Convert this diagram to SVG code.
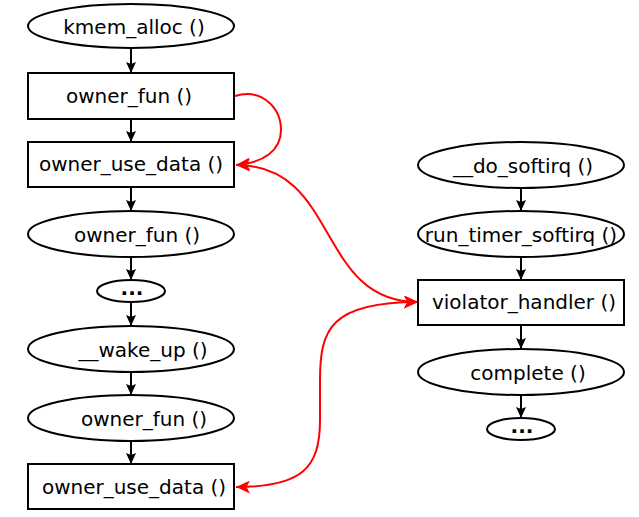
<svg xmlns="http://www.w3.org/2000/svg" width="639" height="517" viewBox="0 0 639 517">
<style>
  .shape { fill: #fff; stroke: #000; stroke-width: 2; }
  .lbl { font-family: "DejaVu Sans", sans-serif; font-size: 20px; fill: #000; text-anchor: middle; }
  .dots { font-weight: bold; }
  .edge { fill: none; stroke: #000; stroke-width: 2; }
  .red { fill: none; stroke: #ff0000; stroke-width: 2; }
</style>
<defs>
  <marker id="ab" markerUnits="userSpaceOnUse" markerWidth="12" markerHeight="11" refX="11" refY="5.5" orient="auto">
    <path d="M0,0.5 L11,5.5 L0,10.5 L2,5.5 z" fill="#000"/>
  </marker>
  <marker id="ar" markerUnits="userSpaceOnUse" markerWidth="15" markerHeight="13" refX="14" refY="6.5" orient="auto-start-reverse">
    <path d="M0,0 L14,6.5 L0,13 L3.5,6.5 z" fill="#ff0000"/>
  </marker>
</defs>
<g id="connectors">
  <line class="edge" x1="131" y1="49" x2="131" y2="73" marker-end="url(#ab)"/>
  <line class="edge" x1="131" y1="119" x2="131" y2="142" marker-end="url(#ab)"/>
  <line class="edge" x1="131" y1="187" x2="131" y2="211" marker-end="url(#ab)"/>
  <line class="edge" x1="131" y1="258" x2="131" y2="280" marker-end="url(#ab)"/>
  <line class="edge" x1="131" y1="302" x2="131" y2="326" marker-end="url(#ab)"/>
  <line class="edge" x1="131" y1="372" x2="131" y2="395" marker-end="url(#ab)"/>
  <line class="edge" x1="131" y1="441" x2="131" y2="464" marker-end="url(#ab)"/>
  <line class="edge" x1="521" y1="188" x2="521" y2="211" marker-end="url(#ab)"/>
  <line class="edge" x1="521" y1="258" x2="521" y2="280" marker-end="url(#ab)"/>
  <line class="edge" x1="521" y1="325" x2="521" y2="349" marker-end="url(#ab)"/>
  <line class="edge" x1="521" y1="395" x2="521" y2="418" marker-end="url(#ab)"/>
  <path class="red" d="M235,96 C262,88 281,108 281,130 C281,150 264,163 236,165" marker-end="url(#ar)"/>
  <path class="red" d="M236,165 C340,165 316,302 418,302" marker-start="url(#ar)" marker-end="url(#ar)"/>
  <path class="red" d="M418,302 C330,302 320,330 320,380 L320,420 C320,468 302,487 236,487" marker-start="url(#ar)" marker-end="url(#ar)"/>
</g>
<g id="kmem_alloc">
  <ellipse class="shape" cx="131" cy="26" rx="103" ry="22"/>
  <text class="lbl" x="134" y="34">kmem_alloc ()</text>
</g>
<g id="owner_fun1">
  <rect class="shape" x="28" y="73" width="206" height="46"/>
  <text class="lbl" x="129" y="103">owner_fun ()</text>
</g>
<g id="owner_use_data1">
  <rect class="shape" x="28" y="142" width="206" height="45"/>
  <text class="lbl" x="131" y="171">owner_use_data ()</text>
</g>
<g id="owner_fun2">
  <ellipse class="shape" cx="131" cy="234" rx="103" ry="23"/>
  <text class="lbl" x="137" y="242">owner_fun ()</text>
</g>
<g id="dots1">
  <ellipse class="shape" cx="131" cy="291" rx="34" ry="11"/>
  <text class="lbl dots" x="132" y="295">...</text>
</g>
<g id="wake_up">
  <ellipse class="shape" cx="131" cy="349" rx="103" ry="23"/>
  <text class="lbl" x="143" y="357">__wake_up ()</text>
</g>
<g id="owner_fun3">
  <ellipse class="shape" cx="131" cy="418" rx="103" ry="23"/>
  <text class="lbl" x="144" y="426">owner_fun ()</text>
</g>
<g id="owner_use_data2">
  <rect class="shape" x="28" y="464" width="206" height="45"/>
  <text class="lbl" x="134" y="494">owner_use_data ()</text>
</g>
<g id="do_softirq">
  <ellipse class="shape" cx="521" cy="165" rx="103" ry="23"/>
  <text class="lbl" x="523" y="173">__do_softirq ()</text>
</g>
<g id="run_timer_softirq">
  <ellipse class="shape" cx="521" cy="234" rx="103" ry="23"/>
  <text class="lbl" x="521" y="242">run_timer_softirq ()</text>
</g>
<g id="violator_handler">
  <rect class="shape" x="418" y="280" width="206" height="45"/>
  <text class="lbl" x="524" y="309">violator_handler ()</text>
</g>
<g id="complete">
  <ellipse class="shape" cx="521" cy="372" rx="103" ry="23"/>
  <text class="lbl" x="528" y="380">complete ()</text>
</g>
<g id="dots2">
  <ellipse class="shape" cx="521" cy="429" rx="34" ry="11"/>
  <text class="lbl dots" x="522" y="433">...</text>
</g>
</svg>
